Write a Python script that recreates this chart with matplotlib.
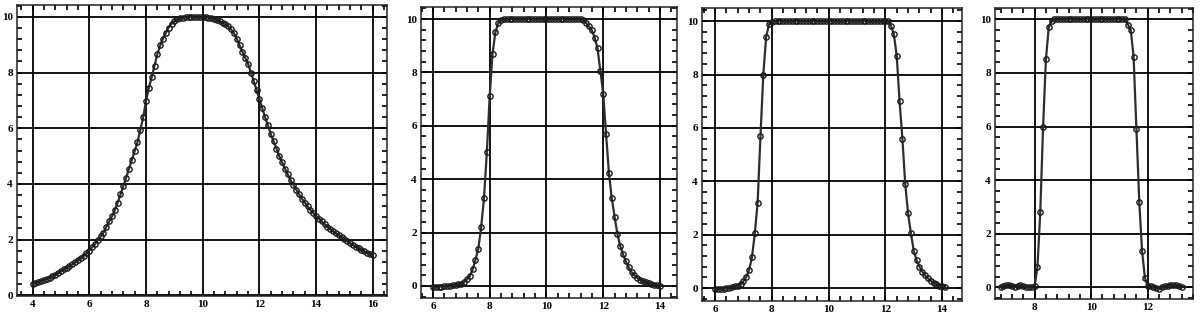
import numpy as np
import matplotlib
matplotlib.use("Agg")
import matplotlib.pyplot as plt
from matplotlib.ticker import MultipleLocator

plt.rcParams['font.family'] = ['Liberation Serif', 'DejaVu Serif']

# panel 1: broad profile, sampled every 0.1 from 4 to 16
x1_start, x1_step = 4.0, 0.1
y1 = [0.40, 0.43, 0.47, 0.51, 0.55, 0.59, 0.63, 0.68, 0.73, 0.80,
      0.88, 0.93, 0.99, 1.05, 1.11, 1.18, 1.26, 1.34, 1.42, 1.51,
      1.60, 1.72, 1.84, 1.97, 2.11, 2.25, 2.45, 2.65, 2.83, 3.05,
      3.33, 3.62, 3.92, 4.22, 4.55, 4.86, 5.18, 5.50, 5.94, 6.39,
      6.98, 7.45, 7.83, 8.25, 8.66, 8.98, 9.22, 9.43, 9.62, 9.76,
      9.85, 9.92, 9.96, 9.98, 9.99, 10.0, 10.0, 10.0, 10.0, 10.0,
      10.0, 9.99, 9.98, 9.96, 9.93, 9.89, 9.84, 9.79, 9.73, 9.67,
      9.55, 9.42, 9.22, 8.98, 8.75, 8.53, 8.31, 8.00, 7.70, 7.37,
      7.05, 6.72, 6.40, 6.10, 5.80, 5.53, 5.27, 5.00, 4.77, 4.55,
      4.34, 4.14, 3.96, 3.79, 3.62, 3.47, 3.33, 3.19, 3.06, 2.95,
      2.85, 2.75, 2.65, 2.55, 2.46, 2.38, 2.29, 2.22, 2.15, 2.08,
      2.01, 1.94, 1.86, 1.80, 1.74, 1.68, 1.62, 1.57, 1.52, 1.48,
      1.44]

# panel 2: 6.0 .. 14.0
x2_start, x2_step = 6.0, 0.1
y2 = [-0.02, -0.03, -0.03, -0.02, -0.01, 0.00, 0.01, 0.03, 0.04, 0.06,
      0.08, 0.15, 0.25, 0.37, 0.62, 0.98, 1.40, 2.20, 3.30, 5.00,
      7.10, 8.70, 9.50, 9.84, 9.95, 9.99,
      10.0, 10.0, 10.0, 10.0, 10.0, 10.0, 10.0, 10.0, 10.0, 10.0,
      10.0, 10.0, 10.0, 10.0, 10.0, 10.0, 10.0, 10.0, 10.0, 10.0,
      10.0, 10.0, 10.0, 10.0, 10.0, 10.0, 10.0,
      9.95, 9.85, 9.72, 9.58, 9.30, 8.90, 8.05, 7.20, 5.70, 4.25,
      3.30, 2.60, 1.95, 1.50, 1.18, 0.92, 0.70, 0.52, 0.40, 0.31,
      0.24, 0.18, 0.14, 0.10, 0.07, 0.05, 0.03, 0.01]

# panel 3: 6.0 .. 14.1
x3_start, x3_step = 6.0, 0.1
y3 = [-0.04, -0.04, -0.03, -0.02, 0.00, 0.02, 0.05, 0.08, 0.10, 0.16,
      0.26, 0.42, 0.68, 1.15, 2.05, 3.20, 5.70, 8.00, 9.40, 9.88,
      9.98,
      10.0, 10.0, 10.0, 10.0, 10.0, 10.0, 10.0, 10.0, 10.0, 10.0,
      10.0, 10.0, 10.0, 10.0, 10.0, 10.0, 10.0, 10.0, 10.0, 10.0,
      10.0, 10.0, 10.0, 10.0, 10.0, 10.0, 10.0, 10.0, 10.0, 10.0,
      10.0, 10.0, 10.0, 10.0, 10.0, 10.0, 10.0, 10.0, 10.0, 10.0,
      10.0,
      9.82, 9.50, 8.70, 7.00, 5.60, 3.90, 2.80, 2.05, 1.40, 1.05,
      0.81, 0.62, 0.48, 0.37, 0.28, 0.20, 0.14, 0.10, 0.07, 0.05]

# panel 4: 6.8 .. 13.2
x4_start, x4_step = 6.8, 0.1
y4 = [0.02, 0.06, 0.08, 0.10, 0.07, 0.02, 0.05, 0.08, 0.04, 0.00,
      0.03, 0.00, 0.05,
      0.75, 2.80, 6.00, 8.50, 9.70, 9.95,
      10.0, 10.0, 10.0, 10.0, 10.0, 10.0, 10.0, 10.0, 10.0, 10.0,
      10.0, 10.0, 10.0, 10.0, 10.0, 10.0, 10.0, 10.0, 10.0, 10.0,
      10.0, 10.0, 10.0, 10.0, 10.0, 10.0,
      9.80, 9.60, 8.60, 5.90, 3.20, 1.35, 0.36, 0.05,
      0.06, 0.02, -0.02, -0.04, 0.00, 0.04, 0.06, 0.10, 0.08, 0.10,
      0.07, 0.03]

y_ticks = [0, 2, 4, 6, 8, 10]

W, H = 1202, 314
# frame boxes in pixels: left, top, right, bottom
boxes = [(17, 5, 387, 296), (421, 7, 677, 298), (702, 8, 962, 301), (995, 8, 1193, 299)]
xlims = [(3.45, 16.5), (5.58, 14.6), (5.54, 14.7), (6.6, 13.6)]
ylims = [(-0.03, 10.43), (-0.45, 10.45), (-0.48, 10.49), (-0.43, 10.42)]
series = [(x1_start, x1_step, y1), (x2_start, x2_step, y2),
          (x3_start, x3_step, y3), (x4_start, x4_step, y4)]

fig = plt.figure(figsize=(W / 100, H / 100), dpi=100)

for box, xl, yl, (x0, dx, ys) in zip(boxes, xlims, ylims, series):
    l, t, r, b = box
    ax = fig.add_axes([l / W, 1 - b / H, (r - l) / W, (b - t) / H])
    xs = np.round(x0 + dx * np.arange(len(ys)), 2)
    ax.plot(xs, ys, color='#2e2e2e', lw=1.6, marker='o', ms=3.8,
            mfc='none', mec='#1a1a1a', mew=1.0, zorder=3)
    ax.set_xlim(xl)
    ax.set_ylim(yl)
    ax.xaxis.set_major_locator(MultipleLocator(2))
    ax.xaxis.set_minor_locator(MultipleLocator(0.4))
    ax.set_yticks(y_ticks)
    ax.yaxis.set_minor_locator(MultipleLocator(0.4))
    ax.grid(True, which='major', color='black', lw=1.3)
    ax.tick_params(which='both', direction='in', top=True, right=True,
                   colors='black', labelsize=8, width=1.2)
    ax.tick_params(which='major', length=3.5, pad=3)
    ax.tick_params(which='minor', length=3.5)
    for lab in ax.get_xticklabels() + ax.get_yticklabels():
        lab.set_fontweight('bold')
    for sp in ax.spines.values():
        sp.set_linewidth(1.1)
        sp.set_color('#222222')

fig.savefig('out.png', dpi=100)
